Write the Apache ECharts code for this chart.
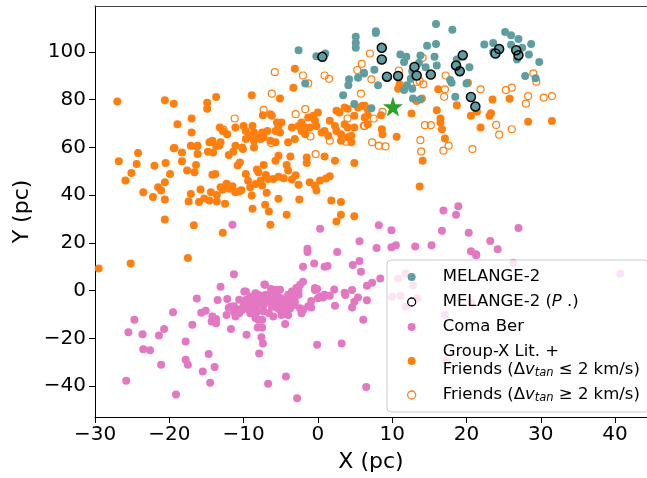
<!DOCTYPE html>
<html><head><meta charset="utf-8">
<script src="https://cdn.jsdelivr.net/npm/echarts@6/dist/echarts.min.js"></script>
<style>html,body{margin:0;padding:0;background:#fff}#c{width:647px;height:478px}</style>
</head><body><div id="c"></div>
<script>
const xTicks = [-30,-20,-10,0,10,20,30,40];
const yTicks = [-40,-20,0,20,40,60,80,100];

const melange = [
[-2.6,100.7],[0.6,97.9],[-0.2,98.2],[1.0,99.3],[-1.7,86.8],[5.1,106.3],[5.1,103.8],[5.1,101.7],[6.2,90.9],[5.4,89.2],[4.2,88.5],[4.1,86.0],[3.4,81.8],[4.9,78.2],
[7.8,108.6],[7.8,107.9],[15.9,111.7],[18.1,109.3],[11.1,98.9],[11.9,97.9],[11.6,95.7],[13.8,98.5],[14.7,102.6],[15.9,103.3],[15.7,97.9],[16.0,94.3],[12.7,91.9],[14.5,93.6],[12.5,88.7],[11.6,84.0],[12.7,84.6],[12.8,80.5],[13.8,80.1],[6.2,91.2],[8.1,86.0],[7.2,76.4],[17.8,88.2],[18.0,87.1],[18.5,81.2],[20.0,86.8],[20.4,93.6],[18.7,96.8],[22.4,103.1],[23.6,103.7],[25.2,108.3],[26.0,106.9],[27.0,105.4],[28.7,103.3],[26.0,103.0],[28.4,98.9],[26.8,96.8],[29.8,95.8],[27.9,89.9],[29.3,88.9],[23.6,99.9],[27.5,101.7],
[13.6,95.4],[7.6,92.5],[12.0,86.0],
[0.6,97.9],[8.6,101.7],[8.6,96.8],[9.3,89.6],[10.8,89.9],[13.0,93.7],[13.3,90.1],[15.2,90.5],[19.5,98.6],[18.6,94.3],[19.1,91.9],[24.4,101.2],[23.9,99.3],[26.7,100.7],[27.0,98.6],[20.6,81.1],[21.2,77.1]
];
const melangeP = [
[0.6,97.9],[8.6,101.7],[8.6,96.8],[9.3,89.6],[10.8,89.9],[13.0,93.7],[13.3,90.1],[15.2,90.5],[19.5,98.6],[18.6,94.3],[19.1,91.9],[24.4,101.2],[23.9,99.3],[26.7,100.7],[27.0,98.6],[20.6,81.1],[21.2,77.1]
];
const comaBer = [
[-11.5,27.6],[0.3,25.9],[-1.4,17.6],[-1.4,16.2],[2.6,16.2],[5.6,20.7],[5.6,12.4],[4.7,10.7],[-2.0,10.0],[-0.5,11.4],[0.9,10.0],[1.3,10.3],
[16.9,33.6],[18.9,35.4],[18.6,31.8],[8.2,27.4],[9.9,25.3],[16.7,25.1],[20.3,24.3],[27.0,26.2],[7.9,17.9],[9.9,18.2],[10.5,19.0],[13.1,18.5],[15.3,19.0],[23.2,20.8],[24.2,17.3],[20.6,16.5],[21.3,15.3],
[-25.8,-37.7],[-25.5,-17.4],[-24.7,-12.2],[-23.6,-18.2],[-23.5,-24.5],[-22.6,-24.9],[-21.4,-18.8],[-20.7,-16.0],[-21.1,-31.0],[-19.5,-9.0],[-19.1,-43.5],[-17.8,-21.3],[-17.8,-28.9],[-17.5,-31.0],[-16.9,-14.3],[-16.3,-3.3],[-15.7,-9.2],[-15.1,-8.4],[-15.5,-33.8],[-14.7,-26.5],[-14.5,-38.6],[-14.2,-10.8],[-13.7,-11.9],[-14.3,-12.9],[-13.7,-13.6],[-13.9,-32.0],[-13.5,-3.9],[-13.1,1.6],[-12.2,-3.5],[-12.3,-10.2],[-11.7,-16.0],[-11.3,6.9],[-9.9,-0.4],[-9.6,-18.5],[-8.1,-15.4],[-7.5,-15.4],[-7.6,-19.5],[-7.4,-22.1],[-7.9,-26.3],[-7.2,2.6],[-6.7,-39.0],[-6.3,0.7],[-5.6,0.3],[-4.4,-14.0],[-4.3,-35.9],[-2.8,-45.0],[-2.0,3.7],[-0.4,0.3],[-0.1,0.7],[-0.9,-4.3],[-0.9,-7.1],[-0.1,-22.6],[0.0,-3.2],[0.7,-2.9],[1.6,-2.1],[2.2,0.5],[2.3,-6.3],[3.2,-22.1],[3.6,-0.9],[3.7,-1.8],[4.6,0.3],[4.9,-4.6],[5.4,-2.9],[4.6,-7.1],[5.8,7.9],[6.1,-12.2],[6.5,-40.3],[6.6,2.1],[7.3,3.3],[8.4,5.1],[6.6,-4.0],
[-9.7,-3.9],[-9.3,-5.3],[-8.8,-3.2],[-8.4,-1.1],[-8.4,-4.6],[-8.2,-6.7],[-8.0,-2.5],[-7.5,-3.9],[-7.3,-6.0],[-7.1,-1.8],[-6.6,-4.6],[-6.4,-3.2],[-6.2,-6.7],[-6.0,0.3],[-5.7,-2.5],[-5.5,-1.1],[-5.3,-5.3],[-4.9,-3.2],[-4.6,-6.0],[-4.4,-8.1],[-4.0,-4.6],[-3.7,-7.4],[-3.5,-1.8],[-3.3,-3.9],[-3.1,-6.0],[-2.9,-0.4],[-2.6,0.3],[-2.4,-7.4],[-2.2,-9.5],[-5.1,-8.1],[-6.0,-10.8],[-4.9,-10.2],[-4.0,-10.2],[-8.8,-8.1],[-8.2,-8.8],[-9.1,-9.5],[-8.0,-12.2],[-7.5,-12.2],
[-11.7,-6.7],[-11.3,-8.8],[-11.1,-10.8],[-10.6,-9.5],[-10.2,-8.1],[-10.0,-6.0],
[-11.3,-6.5],[-10.6,-3.8],[-9.7,-0.3],[-10.0,-4.5],[-9.1,-2.4],[-8.9,-5.8],[-8.4,-3.8],[-8.0,-1.7],[-7.5,-5.2],[-7.1,2.5],[-7.3,-8.6],[-6.6,-1.7],[-6.2,0.4],[-6.2,-4.5],[-5.5,-7.2],[-5.3,-3.1],[-5.1,0.4],[-4.4,-4.5],[-4.0,-1.7],[-4.0,-7.2],[-3.5,-0.3],[-3.1,-4.5],[-2.6,-1.7],[-2.4,2.5],[-2.0,-8.0],[-2.9,1.1],[-1.3,-6.5],[-0.4,1.1],[0.3,-2.4],[0.9,-1.7],[-8.4,-11.4],[-8.0,-12.1],[-10.6,-7.9],[-12.0,-7.2],[-9.3,-7.9],[-4.6,-7.9],[-6.6,-9.3],[-3.5,-5.8],
[10.8,5.1],[11.8,7.2],[12.8,2.3],[10.0,-2.5],[11.1,-2.2],[13.4,-3.2],[11.8,-6.7],[17.1,-10.2],[20.7,-5.3],[26.3,11.7],[40.7,7.2],[21.3,14.8],[17.3,-29.6]
];
const groupX = [
[-27.0,79.2],[-20.6,79.7],[-19.4,78.3],[-18.9,69.7],[-17.0,72.1],[-17.0,66.2],[-14.9,78.7],[-14.9,76.2],[-13.7,81.1],[-8.9,81.8],[-5.1,80.5],[-3.3,85.0],[-3.1,92.9],
[-13.2,68.3],[-12.8,66.9],[-12.2,65.5],[-11.1,68.3],[-10.0,69.0],[-9.7,66.9],[-8.8,69.0],[-8.6,66.2],[-9.3,64.9],[-7.5,66.2],[-7.3,64.2],[-6.8,66.9],[-7.4,73.5],[-6.4,73.9],[-6.2,73.2],[-5.5,70.4],[-5.3,69.0],[-5.7,66.9],[-5.1,66.2],[-4.9,70.4],[-3.5,68.3],[-2.6,69.0],[-2.2,70.4],[-1.7,68.3],[-1.3,72.5],[-0.6,73.2],[-0.4,71.1],[0.0,74.6],[-2.2,66.9],[-1.1,68.3],[-0.2,69.0],[0.9,66.9],[1.6,71.1],[2.3,69.0],[2.5,66.9],[3.1,65.5],[2.5,75.3],[3.6,76.7],[4.0,76.2],[2.9,74.6],[3.6,69.7],[4.0,68.3],[4.9,68.3],[4.5,64.9],[4.5,62.1],[4.9,73.2],[5.4,76.7],[6.3,77.4],[6.7,76.0],[6.3,72.5],[6.7,69.7],
[-14.6,62.1],[-14.2,62.8],[-13.7,60.7],[-13.1,62.1],[-11.1,60.7],[-10.2,60.0],[-9.7,63.5],[-8.6,62.8],[-8.2,64.2],[-7.7,63.5],[-6.4,62.8],[-5.7,62.1],[-4.0,62.1],[-3.1,63.5],[-1.7,65.5],[0.5,66.2],[1.4,64.9],[3.1,62.8],[4.0,64.2],[-19.3,59.7],[-17.1,60.7],[-16.2,60.7],
[-26.8,54.2],[-25.9,46.1],[-25.1,49.3],[-24.4,53.0],[-24.2,57.6],[-23.5,41.2],[-22.2,39.2],[-22.0,52.3],[-21.5,43.3],[-21.1,41.9],[-20.5,53.5],[-20.6,45.4],[-20.6,38.2],[-19.9,48.9],[-19.4,59.6],[-18.3,57.9],[-18.3,54.2],[-17.6,50.3],[-17.1,40.5],[-17.4,37.3],[-16.6,49.6],[-16.4,52.6],[-16.3,60.4],[-16.2,57.2],[-16.0,37.1],[-15.8,42.4],[-14.8,58.2],[-14.6,37.8],[-14.4,41.2],[-14.2,48.5],[-13.8,48.9],[-14.1,57.9],[-13.6,37.3],[-13.6,40.1],[-13.3,60.7],[-13.1,43.3],[-12.8,42.4],[-12.5,36.4],[-12.0,56.8],[-11.5,43.7],[-11.4,58.2],[-11.1,41.2],[-10.8,52.4],[-10.6,41.5],[-10.5,53.7],[-10.1,59.3],[-9.7,48.9],[-9.1,43.3],[-8.9,39.8],[-8.8,34.3],[-8.6,60.0],[-8.2,50.7],[-8.0,49.6],[-7.7,46.1],[-7.5,44.0],[-7.3,52.6],[-7.1,36.0],[-6.9,41.0],[-6.6,33.2],[-6.4,27.6],[-6.7,46.8],[-6.0,46.8],[-5.7,54.4],[-5.3,56.5],[-5.3,38.5],[-4.6,47.1],[-4.2,52.6],[-4.0,50.3],[-4.2,31.8],[-3.7,56.2],[-3.5,46.5],[-2.6,44.3],[-2.5,38.2],[-1.5,55.8],[-1.5,53.5],[-1.1,45.4],[-0.4,44.0],[-0.2,41.9],[0.3,46.1],[0.9,56.2],[1.6,47.9],[2.3,54.4],[1.8,37.8],[2.5,29.0],[3.1,37.1],[3.1,31.8],[4.9,31.2],[4.9,53.5],[-12.8,24.3],[-16.7,27.4],[-20.6,29.8],[-17.5,13.7],[-25.2,11.4],[-29.5,9.3],
[-11.9,42.7],[-10.3,42.0],[-12.3,44.8],[-9.4,46.0],[-8.4,44.7],[-15.3,38.6],[-7.0,48.4],[-5.3,47.7],[-3.0,48.3],[1.1,47.0],
[6.0,77.4],[6.7,73.5],[8.5,73.5],[8.6,67.6],[8.7,65.5],[10.6,64.4],[11.0,86.4],[10.8,84.6],[12.6,74.2],[13.3,79.4],[14.0,80.5],[16.0,75.5],[16.2,84.3],[16.5,72.1],[16.5,70.4],[16.7,67.6],[17.1,63.7],[18.7,77.6],[20.2,87.1],[20.6,73.2],[21.9,68.3],[21.4,74.9],[23.1,73.2],[23.3,74.3],[23.5,80.1],[25.8,80.4],[28.3,70.7],[31.5,71.0],
[14.1,54.4],[13.7,43.6]
];
const friends = [
[-5.8,91.5],[-2.0,90.1],[-1.3,86.8],[0.9,90.1],[1.5,88.7],[5.3,92.4],[5.9,95.0],[-6.2,82.5],[-7.3,75.7],[-11.2,72.1],[-12.7,67.4],[-3.0,73.9],[-1.7,76.0],[-1.0,64.6],[1.6,62.8],[-6.3,61.8],[3.8,62.4],[4.0,72.1],[6.3,69.0],
[7.0,99.3],[7.2,88.5],[5.8,82.5],[10.9,92.2],[14.1,97.5],[17.2,90.1],[17.1,84.3],[17.0,81.2],[13.3,87.4],[13.7,87.8],[14.2,86.4],[21.9,84.3],[25.3,84.0],[26.1,85.0],[28.3,81.5],[28.0,78.3],[30.4,80.8],[31.5,81.5],[29.0,91.0],[29.4,87.5],[6.2,69.0],[7.5,72.1],[8.7,74.9],[14.4,69.3],[15.2,69.3],[13.8,63.0],[24.0,69.4],[24.4,65.3],[26.1,67.6],[7.3,62.1],[8.2,60.7],[9.1,60.4],[17.6,60.7],[20.8,59.3],
[-0.3,57.2],[13.9,58.3],[16.9,58.6]
];
const sunPos = [[10.1,77.1]];

const FONT = 'DejaVu Sans';
const fmt = v => String(v).replace('-', '\u2212');
const STAR = 'path://M50,0 L61.8,35.1 L97.6,34.5 L68.8,55.9 L79.4,90.5 L50,69.5 L20.6,90.5 L31.2,55.9 L2.4,34.5 L38.2,35.1 Z';

const names = {
  m: 'MELANGE-2', p: 'MELANGE-2 (P.)', c: 'Coma Ber', g: 'Group-X Lit. + Friends le', f: 'Friends ge'
};
const legendText = {};
legendText[names.m] = '{n|MELANGE-2}';
legendText[names.p] = '{n|MELANGE-2 (}{i|P}{n| .)}';
legendText[names.c] = '{n|Coma Ber}';
legendText[names.g] = '{n|Group-X Lit. +}\n{n|Friends (\u0394}{i|v}{s|tan}{n| \u2264 2 km/s)}';
legendText[names.f] = '{n|Friends (\u0394}{i|v}{s|tan}{n| \u2265 2 km/s)}';

const chart = echarts.init(document.getElementById('c'), null, {renderer: 'canvas'});
chart.setOption({
  animation: false,
  backgroundColor: '#fff',
  grid: {left: 95, width: 557, top: 6, bottom: 59, containLabel: false},
  xAxis: [{
    type: 'value', min: -30, max: 44.3, position: 'bottom',
    splitLine: {show: false},
    axisLine: {show: true, onZero: false, lineStyle: {color: '#000', width: 1}},
    axisTick: {show: true, inside: false, length: 6, customValues: xTicks, lineStyle: {color: '#000', width: 1}},
    axisLabel: {customValues: xTicks, formatter: fmt, fontFamily: FONT, fontSize: 20, color: '#000', margin: 8},
    name: 'X (pc)', nameLocation: 'middle', nameGap: 34,
    nameTextStyle: {fontFamily: FONT, fontSize: 22, color: '#000'}
  }, {
    type: 'value', min: -30, max: 44.3, position: 'top',
    splitLine: {show: false},
    axisLine: {show: true, onZero: false, lineStyle: {color: '#444', width: 1.2}},
    axisTick: {show: false}, axisLabel: {show: false}
  }],
  yAxis: {
    type: 'value', min: -52.9, max: 119.2,
    splitLine: {show: false},
    axisLine: {show: true, onZero: false, lineStyle: {color: '#000', width: 1}},
    axisTick: {show: true, inside: false, length: 6, customValues: yTicks, lineStyle: {color: '#000', width: 1}},
    axisLabel: {customValues: yTicks, formatter: fmt, fontFamily: FONT, fontSize: 20, color: '#000', margin: 9},
    name: 'Y (pc)', nameLocation: 'middle', nameGap: 62,
    nameTextStyle: {fontFamily: FONT, fontSize: 22, color: '#000'}
  },
  legend: {
    orient: 'vertical', left: 387, top: 260,
    padding: [8, 8, 8, 20], itemGap: 7, itemWidth: 8, itemHeight: 8,
    backgroundColor: 'rgba(255,255,255,0.8)', borderColor: '#cccccc', borderWidth: 1, borderRadius: 4,
    selectedMode: false,
    formatter: n => legendText[n] || n,
    textStyle: {
      fontFamily: FONT, fontSize: 16.5, color: '#000', lineHeight: 18, padding: [0, 0, 0, 22],
      rich: {
        n: {fontFamily: FONT, fontSize: 16.5, color: '#000', lineHeight: 18},
        i: {fontFamily: FONT, fontSize: 16.5, color: '#000', fontStyle: 'italic', lineHeight: 18},
        s: {fontFamily: FONT, fontSize: 11.5, color: '#000', fontStyle: 'italic', lineHeight: 10, verticalAlign: 'bottom'}
      }
    },
    data: [
      {name: names.m, icon: 'circle'},
      {name: names.p, icon: 'circle', itemStyle: {color: 'rgba(0,0,0,0)', borderColor: '#000', borderWidth: 1.3}},
      {name: names.c, icon: 'circle'},
      {name: names.g, icon: 'circle'},
      {name: names.f, icon: 'circle', itemStyle: {color: 'rgba(0,0,0,0)', borderColor: '#ff7f0e', borderWidth: 1.3}}
    ]
  },
  series: [
    {name: names.c, type: 'scatter', data: comaBer, symbol: 'circle', symbolSize: 8,
     itemStyle: {color: '#e377c2', opacity: 1}, emphasis: {disabled: true}, silent: true},
    {name: names.g, type: 'scatter', data: groupX, symbol: 'circle', symbolSize: 8,
     itemStyle: {color: '#ff7f0e', opacity: 1}, emphasis: {disabled: true}, silent: true},
    {name: names.f, type: 'scatter', data: friends, symbol: 'circle', symbolSize: 7,
     itemStyle: {color: 'rgba(255,255,255,0)', borderColor: '#ff7f0e', borderWidth: 1.2, opacity: 1}, emphasis: {disabled: true}, silent: true},
    {name: names.m, type: 'scatter', data: melange, symbol: 'circle', symbolSize: 8,
     itemStyle: {color: '#5f9ea0', opacity: 1}, emphasis: {disabled: true}, silent: true},
    {name: names.p, type: 'scatter', data: melangeP, symbol: 'circle', symbolSize: 9,
     itemStyle: {color: 'rgba(0,0,0,0)', borderColor: '#000', borderWidth: 1.5, opacity: 1}, emphasis: {disabled: true}, silent: true},
    {name: 'Sun', type: 'scatter', data: sunPos, symbol: STAR, symbolSize: 20,
     itemStyle: {color: '#2ca02c', opacity: 1}, emphasis: {disabled: true}, silent: true}
  ]
});
</script>
</body></html>
